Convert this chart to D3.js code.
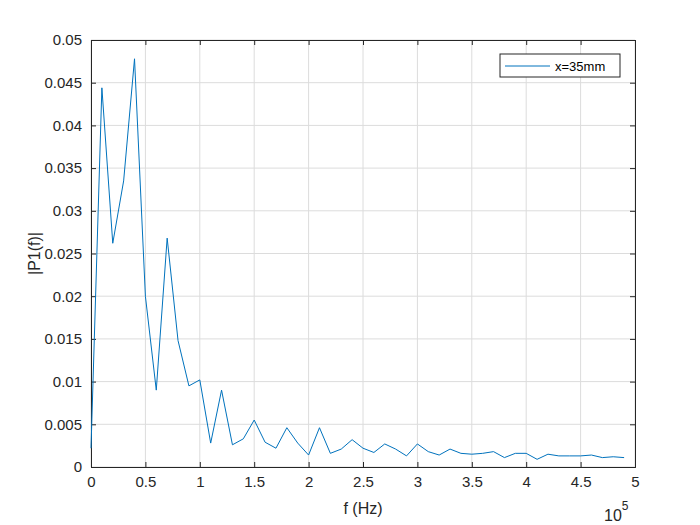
<!DOCTYPE html>
<html><head><meta charset="utf-8">
<script src="https://cdn.jsdelivr.net/npm/d3@7"></script>
<style>body{margin:0;background:#fff;font-family:"Liberation Sans",Arial,sans-serif}</style>
</head><body><svg id="c" width="700" height="525"></svg>
<script>
// frequency in units of 1e5 Hz
const freq = d3.range(50).map(i => i / 10);
const amp = [0.0022,0.0444,0.0262,0.0335,0.0478,0.0200,0.0090,0.0268,0.0148,0.0095,
  0.0102,0.0028,0.0090,0.0026,0.0033,0.0055,0.0029,0.0022,0.0046,0.0028,
  0.0014,0.0046,0.0016,0.0021,0.0032,0.0022,0.0017,0.0027,0.0021,0.0013,
  0.0027,0.0018,0.0014,0.0021,0.0016,0.0015,0.0016,0.0018,0.0011,0.0016,
  0.0016,0.0009,0.0015,0.0013,0.0013,0.0013,0.0014,0.0011,0.0012,0.0011];
const xTicks = d3.range(0, 5.01, 0.5);
const yTicks = d3.range(0, 0.0501, 0.005);

const svg = d3.select("#c");
const L = 91, R = 635, T = 40, B = 467;
const x = d3.scaleLinear().domain([0, 5]).range([L, R]);
const y = d3.scaleLinear().domain([0, 0.05]).range([B, T]);

const g = svg.append("g");
g.selectAll(".gx").data(xTicks).join("line")
  .attr("x1", d => x(d)).attr("x2", d => x(d)).attr("y1", T).attr("y2", B)
  .attr("stroke", "#dcdcdc");
g.selectAll(".gy").data(yTicks).join("line")
  .attr("y1", d => y(d)).attr("y2", d => y(d)).attr("x1", L).attr("x2", R)
  .attr("stroke", "#dcdcdc");

const fmtY = d => d === 0 ? "0" : d3.format(".3~f")(d);
svg.append("g").attr("transform", `translate(0,${B})`)
  .call(d3.axisBottom(x).tickValues(xTicks).tickSize(-5).tickPadding(9).tickFormat(d3.format("~g")));
svg.append("g").attr("transform", `translate(${L},0)`)
  .call(d3.axisLeft(y).tickValues(yTicks).tickSize(-5).tickPadding(9).tickFormat(fmtY));
svg.append("g").attr("transform", `translate(0,${T})`)
  .call(d3.axisTop(x).tickValues(xTicks).tickSize(-5).tickFormat(""));
svg.append("g").attr("transform", `translate(${R},0)`)
  .call(d3.axisRight(y).tickValues(yTicks).tickSize(-5).tickFormat(""));
svg.selectAll(".domain, .tick line").attr("stroke", "#262626");
svg.selectAll(".tick text").attr("font-size", 15).attr("fill", "#262626").attr("font-family", "Liberation Sans, Arial");

svg.append("path").datum(freq.map((f, i) => [f, amp[i]]))
  .attr("fill", "none").attr("stroke", "#0072bd").attr("stroke-width", 1)
  .attr("d", d3.line().x(d => x(d[0])).y(d => y(d[1])));

svg.append("text").attr("x", (L + R) / 2).attr("y", 514).attr("text-anchor", "middle")
  .attr("font-size", 16).attr("fill", "#262626").text("f (Hz)");
svg.append("text").attr("transform", `translate(40,${(T + B) / 2}) rotate(-90)`)
  .attr("text-anchor", "middle").attr("font-size", 16).attr("fill", "#262626").text("|P1(f)|");
const ex = svg.append("text").attr("x", 604).attr("y", 521).attr("font-size", 16).attr("fill", "#262626");
ex.append("tspan").text("10");
ex.append("tspan").attr("dy", -11).attr("font-size", 12).text("5");

const lg = svg.append("g");
lg.append("rect").attr("x", 500).attr("y", 54).attr("width", 120).attr("height", 23)
  .attr("fill", "#fff").attr("stroke", "#262626");
lg.append("line").attr("x1", 505).attr("x2", 550).attr("y1", 66).attr("y2", 66)
  .attr("stroke", "#0072bd");
lg.append("text").attr("x", 555).attr("y", 71).attr("font-size", 13).attr("fill", "#000").text("x=35mm");
</script></body></html>
